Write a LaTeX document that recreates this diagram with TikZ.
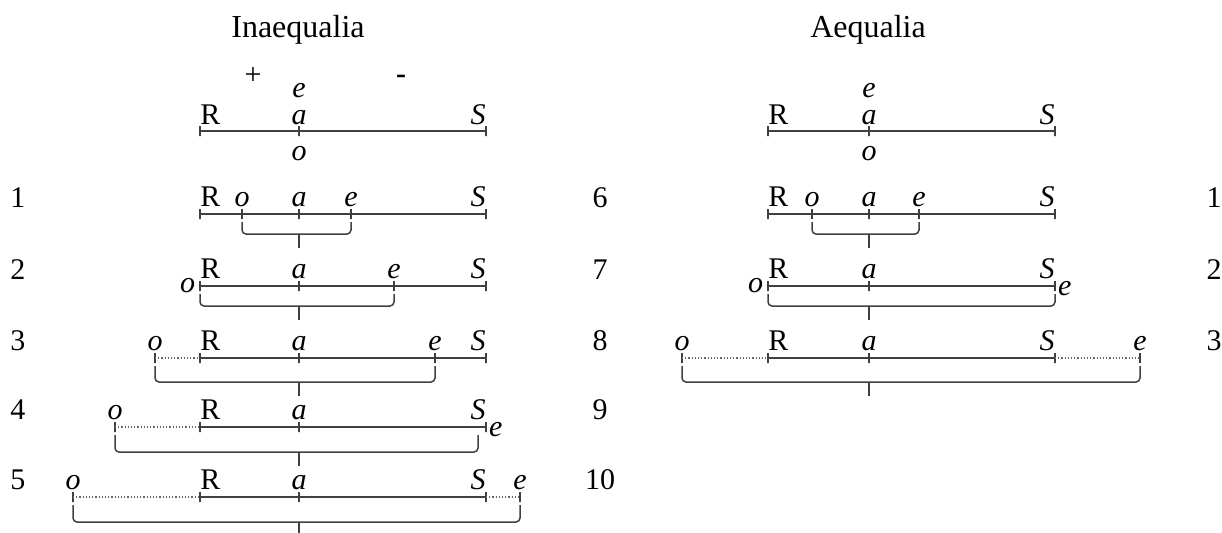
\documentclass[tikz,border=0pt]{standalone}
\usepackage{fontspec}
\setmainfont{Liberation Serif}
\usetikzlibrary{positioning}

\begin{document}
\begin{tikzpicture}[x=0.5pt,y=-0.5pt, every node/.style={font=\fontsize{15}{18}\selectfont},
  tk/.style={draw=black!75,line width=0.6pt,inner sep=0pt,minimum width=0pt,minimum height=5pt},
  seg/.style={draw=black!75,line width=0.75pt},
  dots/.style={draw=black!60,line width=0.6pt,densely dotted},
  brc/.style={draw=black!75,line width=0.75pt,rounded corners=2pt},
  lbl/.style={inner sep=0pt},
  num/.style={inner sep=0pt,anchor=base},
  ttl/.style={font=\fontsize{16}{19}\selectfont}]
\useasboundingbox (0,0) rectangle (1222,532);

% titles
\node[ttl] (titleIn) at (298,30) {Inaequalia};
\node[ttl] (titleAe) at (868,30) {Aequalia};
\node (plus) at (253,76) {+};
\node (minus) at (401,79) {\textbf{-}};

% Inaequalia, top line
\node[tk] (inR0) at (200,131) {};
\node[tk] (ina0) at (299,131) {};
\node[tk] (inS0) at (486,131) {};
\draw[seg] (inR0.center) -- (inS0.center);
\node[lbl,above=0.5pt of inR0,anchor=base west] (inR0l) {R};
\node[lbl,above=0.5pt of ina0,anchor=base] (ina0l) {\textit{a}};
\node[lbl,above=0.5pt of inS0,anchor=base east] (inS0l) {\textit{S}};
\node[lbl,anchor=base] (ine0l) at ([yshift=13.5pt]ina0l.base) {\textit{e}};
\node[lbl,below=4.5pt of ina0] (ino0l) {\textit{o}};

% row 1
\node[tk] (inR1) at (200,214) {};
\node[tk] (ino1) at (242,214) {};
\node[tk] (ina1) at (299,214) {};
\node[tk] (ine1) at (351,214) {};
\node[tk] (inS1) at (486,214) {};
\draw[seg] (inR1.center) -- (inS1.center);
\node[lbl,above=1pt of inR1,anchor=base west] (inR1l) {R};
\node[lbl,above=1pt of ino1,anchor=base] (ino1l) {\textit{o}};
\node[lbl,above=1pt of ina1,anchor=base] (ina1l) {\textit{a}};
\node[lbl,above=1pt of ine1,anchor=base] (ine1l) {\textit{e}};
\node[lbl,above=1pt of inS1,anchor=base east] (inS1l) {\textit{S}};
\draw[brc] ([yshift=-4pt]ino1.center) |- ([yshift=-10pt]ina1.center) -| ([yshift=-4pt]ine1.center);
\draw[brc] ([yshift=-10pt]ina1.center) -- ++(0,-7pt);

% row 2
\node[tk] (inR2) at (200,286) {};
\node[tk] (ina2) at (299,286) {};
\node[tk] (ine2) at (394,286) {};
\node[tk] (inS2) at (486,286) {};
\draw[seg] (inR2.center) -- (inS2.center);
\node[lbl,left=2pt of inR2] (ino2l) {\textit{o}};
\node[lbl,above=1pt of inR2,anchor=base west] (inR2l) {R};
\node[lbl,above=1pt of ina2,anchor=base] (ina2l) {\textit{a}};
\node[lbl,above=1pt of ine2,anchor=base] (ine2l) {\textit{e}};
\node[lbl,above=1pt of inS2,anchor=base east] (inS2l) {\textit{S}};
\draw[brc] ([yshift=-4pt]inR2.center) |- ([yshift=-10pt]ina2.center) -| ([yshift=-4pt]ine2.center);
\draw[brc] ([yshift=-10pt]ina2.center) -- ++(0,-7pt);

% row 3
\node[tk] (ino3) at (155,358) {};
\node[tk] (inR3) at (200,358) {};
\node[tk] (ina3) at (299,358) {};
\node[tk] (ine3) at (435,358) {};
\node[tk] (inS3) at (486,358) {};
\draw[dots] (ino3.center) -- (inR3.center);
\draw[seg] (inR3.center) -- (inS3.center);
\node[lbl,above=1pt of ino3,anchor=base] (ino3l) {\textit{o}};
\node[lbl,above=1pt of inR3,anchor=base west] (inR3l) {R};
\node[lbl,above=1pt of ina3,anchor=base] (ina3l) {\textit{a}};
\node[lbl,above=1pt of ine3,anchor=base] (ine3l) {\textit{e}};
\node[lbl,above=1pt of inS3,anchor=base east] (inS3l) {\textit{S}};
\draw[brc] ([yshift=-4pt]ino3.center) |- ([yshift=-12pt]ina3.center) -| ([yshift=-4pt]ine3.center);
\draw[brc] ([yshift=-12pt]ina3.center) -- ++(0,-7pt);

% row 4
\node[tk] (ino4) at (115,427) {};
\node[tk] (inR4) at (200,427) {};
\node[tk] (ina4) at (299,427) {};
\node[tk] (inS4) at (486,427) {};
\draw[dots] (ino4.center) -- (inR4.center);
\draw[seg] (inR4.center) -- (inS4.center);
\node[lbl,above=1pt of ino4,anchor=base] (ino4l) {\textit{o}};
\node[lbl,above=1pt of inR4,anchor=base west] (inR4l) {R};
\node[lbl,above=1pt of ina4,anchor=base] (ina4l) {\textit{a}};
\node[lbl,above=1pt of inS4,anchor=base east] (inS4l) {\textit{S}};
\node[lbl,right=1pt of inS4,yshift=-1.5pt] (ine4l) {\textit{e}};
\draw[brc] ([yshift=-4pt]ino4.center) |- ([yshift=-12.5pt]ina4.center) -| ([xshift=-4pt,yshift=-4pt]inS4.center);
\draw[brc] ([yshift=-12.5pt]ina4.center) -- ++(0,-7pt);

% row 5
\node[tk] (ino5) at (73,497) {};
\node[tk] (inR5) at (200,497) {};
\node[tk] (ina5) at (299,497) {};
\node[tk] (inS5) at (486,497) {};
\node[tk] (ine5) at (520,497) {};
\draw[dots] (ino5.center) -- (inR5.center);
\draw[seg] (inR5.center) -- (inS5.center);
\draw[dots] (inS5.center) -- (ine5.center);
\node[lbl,above=1pt of ino5,anchor=base] (ino5l) {\textit{o}};
\node[lbl,above=1pt of inR5,anchor=base west] (inR5l) {R};
\node[lbl,above=1pt of ina5,anchor=base] (ina5l) {\textit{a}};
\node[lbl,above=1pt of inS5,anchor=base east] (inS5l) {\textit{S}};
\node[lbl,above=1pt of ine5,anchor=base] (ine5l) {\textit{e}};
\draw[brc] ([yshift=-4pt]ino5.center) |- ([yshift=-12.5pt]ina5.center) -| ([yshift=-4pt]ine5.center);
\draw[brc] ([yshift=-12.5pt]ina5.center) -- ++(0,-7pt);

% row numbers
\node[num] (n1) at (18,207) {1};
\node[num] (n2) at (18,279) {2};
\node[num] (n3) at (18,350) {3};
\node[num] (n4) at (18,419) {4};
\node[num] (n5) at (18,489) {5};
\node[num] (n6) at (600,207) {6};
\node[num] (n7) at (600,279) {7};
\node[num] (n8) at (600,350) {8};
\node[num] (n9) at (600,419) {9};
\node[num] (n10) at (600,489) {10};
\node[num] (m1) at (1214,207) {1};
\node[num] (m2) at (1214,279) {2};
\node[num] (m3) at (1214,350) {3};

% Aequalia, top line
\node[tk] (aeR0) at (768,131) {};
\node[tk] (aea0) at (869,131) {};
\node[tk] (aeS0) at (1055,131) {};
\draw[seg] (aeR0.center) -- (aeS0.center);
\node[lbl,above=0.5pt of aeR0,anchor=base west] (aeR0l) {R};
\node[lbl,above=0.5pt of aea0,anchor=base] (aea0l) {\textit{a}};
\node[lbl,above=0.5pt of aeS0,anchor=base east] (aeS0l) {\textit{S}};
\node[lbl,anchor=base] (aee0l) at ([yshift=13.5pt]aea0l.base) {\textit{e}};
\node[lbl,below=4.5pt of aea0] (aeo0l) {\textit{o}};

% row 1
\node[tk] (aeR1) at (768,214) {};
\node[tk] (aeo1) at (812,214) {};
\node[tk] (aea1) at (869,214) {};
\node[tk] (aee1) at (919,214) {};
\node[tk] (aeS1) at (1055,214) {};
\draw[seg] (aeR1.center) -- (aeS1.center);
\node[lbl,above=1pt of aeR1,anchor=base west] (aeR1l) {R};
\node[lbl,above=1pt of aeo1,anchor=base] (aeo1l) {\textit{o}};
\node[lbl,above=1pt of aea1,anchor=base] (aea1l) {\textit{a}};
\node[lbl,above=1pt of aee1,anchor=base] (aee1l) {\textit{e}};
\node[lbl,above=1pt of aeS1,anchor=base east] (aeS1l) {\textit{S}};
\draw[brc] ([yshift=-4pt]aeo1.center) |- ([yshift=-10pt]aea1.center) -| ([yshift=-4pt]aee1.center);
\draw[brc] ([yshift=-10pt]aea1.center) -- ++(0,-7pt);

% row 2
\node[tk] (aeR2) at (768,286) {};
\node[tk] (aea2) at (869,286) {};
\node[tk] (aeS2) at (1055,286) {};
\draw[seg] (aeR2.center) -- (aeS2.center);
\node[lbl,left=2pt of aeR2] (aeo2l) {\textit{o}};
\node[lbl,above=1pt of aeR2,anchor=base west] (aeR2l) {R};
\node[lbl,above=1pt of aea2,anchor=base] (aea2l) {\textit{a}};
\node[lbl,above=1pt of aeS2,anchor=base east] (aeS2l) {\textit{S}};
\node[lbl,right=1pt of aeS2,yshift=-1.5pt] (aee2l) {\textit{e}};
\draw[brc] ([yshift=-4pt]aeR2.center) |- ([yshift=-10pt]aea2.center) -| ([yshift=-4pt]aeS2.center);
\draw[brc] ([yshift=-10pt]aea2.center) -- ++(0,-7pt);

% row 3
\node[tk] (aeo3) at (682,358) {};
\node[tk] (aeR3) at (768,358) {};
\node[tk] (aea3) at (869,358) {};
\node[tk] (aeS3) at (1055,358) {};
\node[tk] (aee3) at (1140,358) {};
\draw[dots] (aeo3.center) -- (aeR3.center);
\draw[seg] (aeR3.center) -- (aeS3.center);
\draw[dots] (aeS3.center) -- (aee3.center);
\node[lbl,above=1pt of aeo3,anchor=base] (aeo3l) {\textit{o}};
\node[lbl,above=1pt of aeR3,anchor=base west] (aeR3l) {R};
\node[lbl,above=1pt of aea3,anchor=base] (aea3l) {\textit{a}};
\node[lbl,above=1pt of aeS3,anchor=base east] (aeS3l) {\textit{S}};
\node[lbl,above=1pt of aee3,anchor=base] (aee3l) {\textit{e}};
\draw[brc] ([yshift=-4pt]aeo3.center) |- ([yshift=-12pt]aea3.center) -| ([yshift=-4pt]aee3.center);
\draw[brc] ([yshift=-12pt]aea3.center) -- ++(0,-7pt);
\end{tikzpicture}
\end{document}
